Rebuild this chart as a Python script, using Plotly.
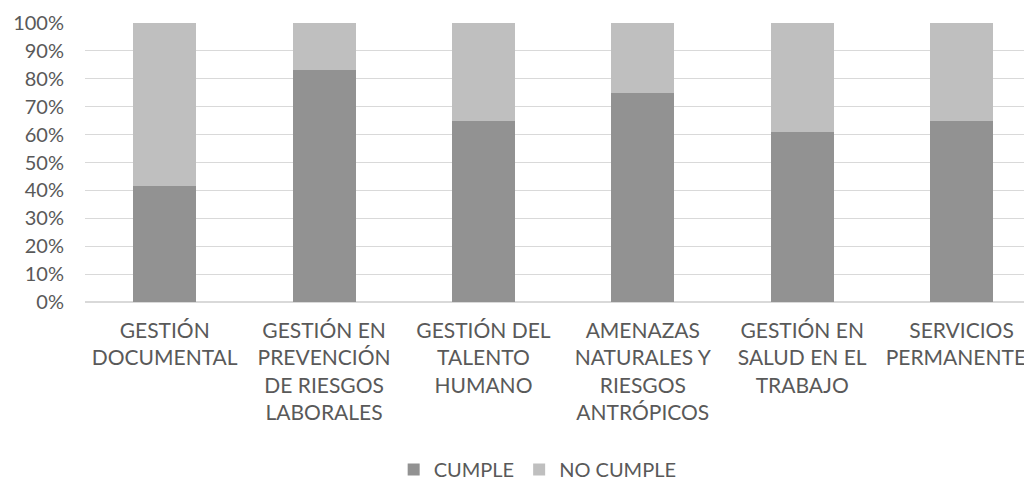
import plotly.graph_objects as go

categories = [
    "GESTIÓN<br>DOCUMENTAL",
    "GESTIÓN EN<br>PREVENCIÓN<br>DE RIESGOS<br>LABORALES",
    "GESTIÓN DEL<br>TALENTO<br>HUMANO",
    "AMENAZAS<br>NATURALES Y<br>RIESGOS<br>ANTRÓPICOS",
    "GESTIÓN EN<br>SALUD EN EL<br>TRABAJO",
    "SERVICIOS<br>PERMANENTES",
]
cumple = [41.7, 83.3, 65.0, 75.0, 61.0, 65.0]
no_cumple = [58.3, 16.7, 35.0, 25.0, 39.0, 35.0]
y_ticks = [0, 10, 20, 30, 40, 50, 60, 70, 80, 90, 100]
y_tick_labels = ["0%", "10%", "20%", "30%", "40%", "50%", "60%", "70%", "80%", "90%", "100%"]

FONT = "Lato, 'Open Sans', sans-serif"
TXT = "#595959"

fig = go.Figure()
fig.add_trace(go.Bar(x=categories, y=cumple, name="CUMPLE",
                     marker=dict(color="#929292", line=dict(width=0))))
fig.add_trace(go.Bar(x=categories, y=no_cumple, name="NO CUMPLE",
                     marker=dict(color="#bfbfbf", line=dict(width=0))))

fig.update_layout(
    width=1024, height=473,
    barmode="stack", bargap=0.605,
    paper_bgcolor="white", plot_bgcolor="white",
    margin=dict(l=77, r=0, t=15, b=179, autoexpand=False),
    font=dict(family=FONT, size=20, color=TXT),
    hovermode=False,
    showlegend=True,
    legend=dict(orientation="h", x=0.478, xanchor="center", y=-0.60, yanchor="middle",
                font=dict(family=FONT, size=20, color=TXT), traceorder="normal",
                itemwidth=30, bgcolor="rgba(0,0,0,0)"),
)
fig.update_xaxes(
    type="category", range=[-0.5, 5.442], automargin=False,
    showgrid=False, showline=False, zeroline=False, ticks="",
    ticklabelstandoff=14,
    tickfont=dict(family=FONT, size=21, color=TXT), tickangle=0,
    fixedrange=True,
)
fig.update_yaxes(
    range=[0, 100], tickvals=y_ticks, ticktext=y_tick_labels, automargin=False,
    showgrid=True, gridcolor="#d9d9d9", gridwidth=1,
    zeroline=True, zerolinecolor="#d9d9d9", zerolinewidth=1.5,
    showline=False, ticks="", ticklabelstandoff=20,
    tickfont=dict(family=FONT, size=20, color=TXT),
    fixedrange=True,
)

fig.write_html("out.html")
